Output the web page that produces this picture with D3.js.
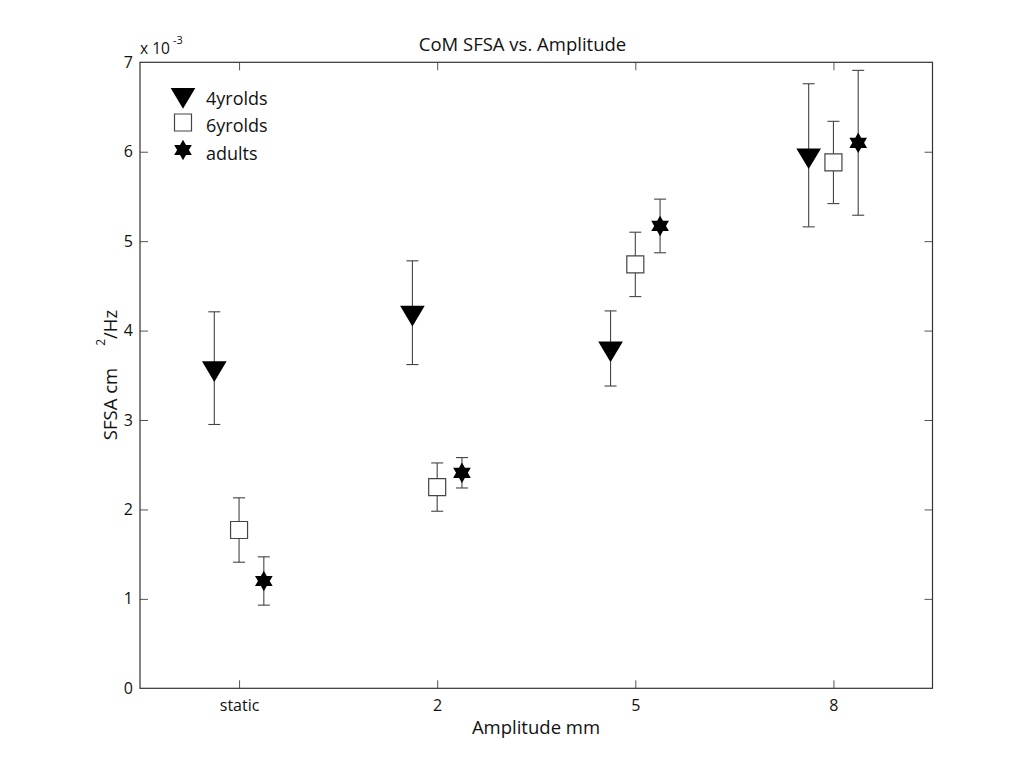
<!DOCTYPE html>
<html>
<head>
<meta charset="utf-8">
<script src="https://cdn.jsdelivr.net/npm/d3@7"></script>
<style>
  html, body { margin: 0; padding: 0; background: #ffffff; }
  svg { display: block; font-family: "Open Sans", "Noto Sans", sans-serif; }
</style>
</head>
<body>
<svg id="chart" width="1021" height="770"></svg>
<script>
// Amplitude conditions on the x axis
const categories = ["static", "2", "5", "8"];
// Group names shown in the legend
const groups = ["4yrolds", "6yrolds", "adults"];
// Mean CoM SFSA (x 10^-3 cm^2/Hz) per amplitude, one array per group
const mean4yr   = [3.58, 4.20, 3.80, 5.96];
const mean6yr   = [1.77, 2.25, 4.74, 5.88];
const meanAdult = [1.20, 2.41, 5.17, 6.10];
// Error bar half-lengths, same units
const err4yr    = [0.63, 0.58, 0.42, 0.80];
const err6yr    = [0.36, 0.27, 0.36, 0.46];
const errAdult  = [0.27, 0.17, 0.30, 0.81];
// Y tick values
const yTicks = [0, 1, 2, 3, 4, 5, 6, 7];

const svg = d3.select("#chart");
const plotL = 140, plotR = 932.5, plotT = 62.3, plotB = 688.3;

const x = d3.scaleLinear().domain([0.5, categories.length + 0.5]).range([plotL, plotR]);
const y = d3.scaleLinear().domain([0, 7]).range([plotB, plotT]);

const groupOffset = [-0.125, 0, 0.125];
const means = [mean4yr, mean6yr, meanAdult];
const errs = [err4yr, err6yr, errAdult];
const markerKind = ["triangle", "square", "hexagram"];

// Marker path generators
function triangleDown(size) {
  // centroid at origin
  const w = size * 1.19, h = size;
  return `M${-w / 2},${-h / 3}L${w / 2},${-h / 3}L0,${2 * h / 3}Z`;
}
function squarePath(s) {
  return `M${-s / 2},${-s / 2}H${s / 2}V${s / 2}H${-s / 2}Z`;
}
function hexagram(R) {
  const r = R / Math.sqrt(3);
  const pts = [];
  for (let i = 0; i < 12; i++) {
    const a = -Math.PI / 2 + i * Math.PI / 6;
    const rad = i % 2 === 0 ? R : r;
    pts.push([rad * Math.cos(a), rad * Math.sin(a)]);
  }
  return "M" + pts.map(p => p[0].toFixed(2) + "," + p[1].toFixed(2)).join("L") + "Z";
}
function drawMarker(g, kind) {
  if (kind === "triangle") {
    g.append("path").attr("d", triangleDown(20.7)).attr("fill", "#000");
  } else if (kind === "square") {
    g.append("path").attr("d", squarePath(17)).attr("fill", "#fff")
      .attr("stroke", "#444").attr("stroke-width", 1.2);
  } else {
    g.append("path").attr("d", hexagram(10.2)).attr("fill", "#000");
  }
}

// Plot area background
svg.append("rect").attr("x", plotL).attr("y", plotT)
  .attr("width", plotR - plotL).attr("height", plotB - plotT)
  .attr("fill", "#fff");

// Axes (ticks point inward)
const axisColor = "#333";
const xVals = categories.map((c, i) => i + 1);

const xAxisB = d3.axisBottom(x).tickValues(xVals).tickFormat((d, i) => categories[i])
  .tickSizeInner(-8).tickSizeOuter(0).tickPadding(11.5);
const xAxisT = d3.axisTop(x).tickValues(xVals).tickFormat("")
  .tickSizeInner(-8).tickSizeOuter(0);
const yAxisL = d3.axisLeft(y).tickValues(yTicks).tickFormat(d3.format("d"))
  .tickSizeInner(-8).tickSizeOuter(0).tickPadding(7);
const yAxisR = d3.axisRight(y).tickValues(yTicks).tickFormat("")
  .tickSizeInner(-8).tickSizeOuter(0);

function styleAxis(g) {
  g.select(".domain").remove();
  g.selectAll(".tick line").attr("stroke", "#555").attr("stroke-width", 1);
  g.selectAll(".tick text").attr("fill", "#111").style("font-size", "16px")
    .style("font-family", "'Open Sans', sans-serif");
}
svg.append("g").attr("transform", `translate(0,${plotB})`).call(xAxisB).call(styleAxis);
svg.append("g").attr("transform", `translate(0,${plotT})`).call(xAxisT).call(styleAxis);
svg.append("g").attr("transform", `translate(${plotL},0)`).call(yAxisL).call(styleAxis);
svg.append("g").attr("transform", `translate(${plotR},0)`).call(yAxisR).call(styleAxis);

// Corner ticks coincide with the frame
svg.selectAll(".tick").filter(d => d === 0 || d === 7).select("line").attr("opacity", 0);

svg.append("rect").attr("x", plotL).attr("y", plotT)
  .attr("width", plotR - plotL).attr("height", plotB - plotT)
  .attr("fill", "none").attr("stroke", axisColor).attr("stroke-width", 1.2);

// Error bars, then markers
const capW = 12;
groups.forEach((gName, gi) => {
  categories.forEach((c, ci) => {
    const cx = x(ci + 1 + groupOffset[gi]);
    const m = means[gi][ci], e = errs[gi][ci];
    const eb = svg.append("g").attr("stroke", "#444").attr("stroke-width", 1.1);
    eb.append("line").attr("x1", cx).attr("x2", cx).attr("y1", y(m + e)).attr("y2", y(m - e));
    eb.append("line").attr("x1", cx - capW / 2).attr("x2", cx + capW / 2).attr("y1", y(m + e)).attr("y2", y(m + e));
    eb.append("line").attr("x1", cx - capW / 2).attr("x2", cx + capW / 2).attr("y1", y(m - e)).attr("y2", y(m - e));
  });
});
groups.forEach((gName, gi) => {
  categories.forEach((c, ci) => {
    const cx = x(ci + 1 + groupOffset[gi]);
    const g = svg.append("g").attr("transform", `translate(${cx},${y(means[gi][ci])})`);
    drawMarker(g, markerKind[gi]);
  });
});

// Legend
const legend = svg.append("g");
groups.forEach((gName, gi) => {
  const rowY = 95 + gi * 27.5;
  const mg = legend.append("g").attr("transform", `translate(183,${rowY})`);
  drawMarker(mg, markerKind[gi]);
  legend.append("text").attr("x", 206).attr("y", rowY + 9.5)
    .style("font-size", "18px").attr("fill", "#111").text(gName);
});

// Title
svg.append("text").attr("x", 522.5).attr("y", 51).attr("text-anchor", "middle")
  .style("font-size", "18.5px").attr("fill", "#111").text("CoM SFSA vs. Amplitude");

// X label
svg.append("text").attr("x", 536).attr("y", 734).attr("text-anchor", "middle")
  .style("font-size", "18.5px").attr("fill", "#111").text("Amplitude mm");

// Y label with superscript
const yl = svg.append("text").attr("transform", "translate(117,375) rotate(-90)")
  .attr("text-anchor", "middle").style("font-size", "18.5px").attr("fill", "#111");
yl.append("tspan").text("SFSA cm");
yl.append("tspan").attr("dx", 22).attr("dy", -12).style("font-size", "12px").text("2");
yl.append("tspan").attr("dy", 12).text("/Hz");

// Exponent label
const ex = svg.append("text").attr("x", 140).attr("y", 54.3)
  .style("font-size", "15.5px").attr("fill", "#111");
ex.append("tspan").text("x 10");
ex.append("tspan").attr("dx", 3).attr("dy", -10).style("font-size", "11px").text("-3");
</script>
</body>
</html>
